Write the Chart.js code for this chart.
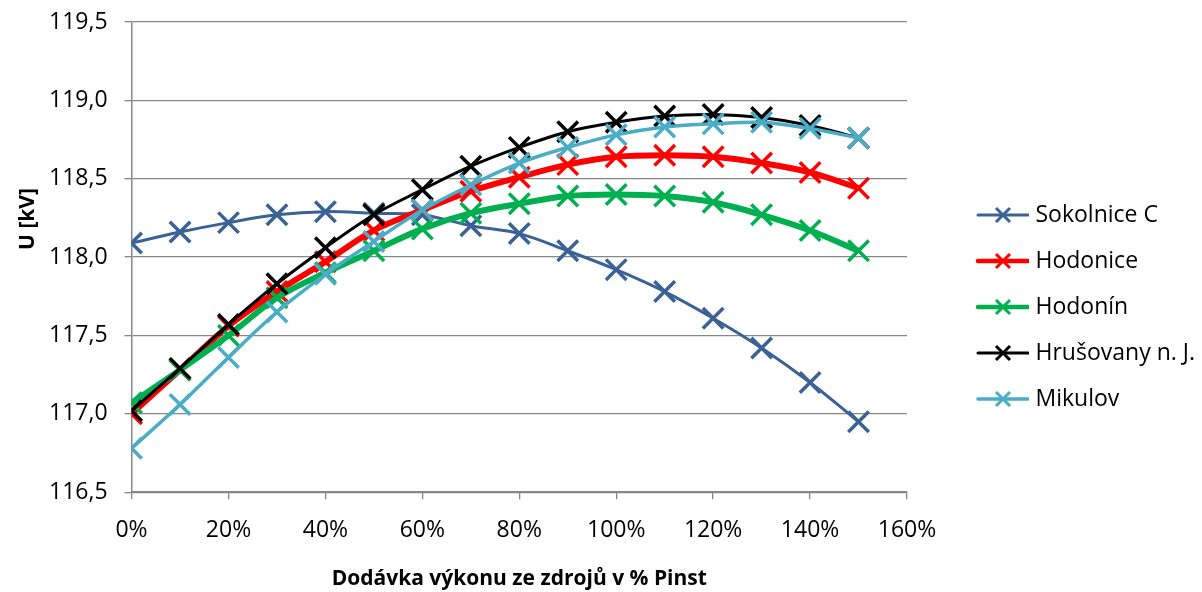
<!DOCTYPE html>
<html>
<head>
<meta charset="utf-8">
<script src="https://cdn.jsdelivr.net/npm/chart.js@4.4.1/dist/chart.umd.min.js"></script>
<style>
  html, body { margin: 0; padding: 0; background: #fff; }
  #wrap { width: 1202px; height: 592px; }
</style>
</head>
<body>
<div id="wrap"><canvas id="voltageChart"></canvas></div>
<script>
// dodávka výkonu v % Pinst
const loads = [0, 10, 20, 30, 40, 50, 60, 70, 80, 90, 100, 110, 120, 130, 140, 150];
const xTicks = [0, 20, 40, 60, 80, 100, 120, 140, 160];
const yTicks = [116.5, 117.0, 117.5, 118.0, 118.5, 119.0, 119.5];

// napětí v uzlech [kV]
const sokolnice = [118.09, 118.16, 118.22, 118.27, 118.29, 118.28, 118.27, 118.20, 118.15, 118.04, 117.92, 117.78, 117.61, 117.42, 117.20, 116.95];
const hodonice  = [117.00, 117.28, 117.56, 117.78, 117.97, 118.17, 118.30, 118.42, 118.51, 118.59, 118.64, 118.65, 118.64, 118.60, 118.54, 118.44];
const hodonin   = [117.07, 117.28, 117.50, 117.74, 117.90, 118.04, 118.18, 118.28, 118.34, 118.39, 118.40, 118.39, 118.35, 118.27, 118.17, 118.04];
const hrusovany = [117.02, 117.29, 117.57, 117.83, 118.06, 118.27, 118.43, 118.58, 118.70, 118.80, 118.86, 118.90, 118.91, 118.89, 118.84, 118.76];
const mikulov   = [116.78, 117.06, 117.36, 117.65, 117.89, 118.10, 118.30, 118.46, 118.60, 118.70, 118.78, 118.83, 118.85, 118.86, 118.82, 118.76];

const FONT = '"Open Sans", sans-serif';
const gridColor = '#878787';

function series(label, values, color, width, order) {
    return {
        label: label,
        data: loads.map((x, i) => ({ x: x, y: values[i] })),
        borderColor: color,
        backgroundColor: color,
        borderWidth: width,
        pointStyle: 'crossRot',
        pointRadius: 14.5,
        pointHoverRadius: 14.5,
        pointBorderWidth: 3.5,
        pointBorderColor: color,
        tension: 0.35,
        fill: false,
        order: order,
        legendWidth: Math.min(width, 4.5)
    };
}

// legend symbol: line with a cross, drawn into the right half of the canvas
function legendSymbol(color, width) {
    const c = document.createElement('canvas');
    c.width = 104;
    c.height = 20;
    const g = c.getContext('2d');
    g.strokeStyle = color;
    g.lineCap = 'round';
    g.lineWidth = width;
    g.beginPath();
    g.moveTo(53, 10);
    g.lineTo(103, 10);
    g.stroke();
    g.lineWidth = 3;
    g.lineCap = 'butt';
    g.beginPath();
    g.moveTo(71, 3); g.lineTo(85, 17);
    g.moveTo(85, 3); g.lineTo(71, 17);
    g.stroke();
    return c;
}

const legendLayout = {
    id: 'legendLayout',
    beforeInit(chart) {
        const legend = chart.legend;
        const fit = legend.fit;
        legend.fit = function() {
            fit.call(this);
            this.width = 295;
        };
    }
};

const yTitle = {
    id: 'yTitle',
    afterDraw(chart) {
        const ctx = chart.ctx;
        ctx.save();
        ctx.translate(28, 219);
        ctx.rotate(-Math.PI / 2);
        ctx.font = 'bold 21px ' + FONT;
        ctx.fillStyle = '#000';
        ctx.textAlign = 'center';
        ctx.textBaseline = 'middle';
        ctx.fillText('U [kV]', 0, 0);
        ctx.restore();
    }
};

const ctx = document.getElementById('voltageChart').getContext('2d');
new Chart(ctx, {
    type: 'line',
    data: {
        datasets: [
            series('Sokolnice C', sokolnice, '#3A6294', 3, 4),
            series('Hodonice', hodonice, '#FF0000', 6, 3),
            series('Hodonín', hodonin, '#00B050', 6, 2),
            series('Hrušovany n. J.', hrusovany, '#000000', 3, 1),
            series('Mikulov', mikulov, '#4BACC6', 3.5, 0)
        ]
    },
    options: {
        responsive: true,
        maintainAspectRatio: false,
        animation: false,
        layout: { padding: { left: 32, top: 22, right: 0, bottom: 0 } },
        scales: {
            x: {
                type: 'linear',
                min: 0,
                max: 160,
                afterBuildTicks: axis => { axis.ticks = xTicks.map(v => ({ value: v })); },
                grid: { display: true, drawOnChartArea: false, drawTicks: true, tickLength: 7, color: gridColor, lineWidth: 1.3 },
                border: { display: true, color: gridColor, width: 1.5 },
                ticks: {
                    padding: 17,
                    color: '#000',
                    font: { family: FONT, size: 23 },
                    maxRotation: 0,
                    callback: v => v + '%'
                },
                title: {
                    display: true,
                    text: 'Dodávka výkonu ze zdrojů v % Pinst',
                    color: '#000',
                    font: { family: FONT, size: 21, weight: 'bold' },
                    padding: { top: 6, bottom: 0 }
                }
            },
            y: {
                min: 116.5,
                max: 119.5,
                afterBuildTicks: axis => { axis.ticks = yTicks.map(v => ({ value: v })); },
                grid: { color: gridColor, lineWidth: 1.3, tickLength: 7 },
                border: { display: true, color: gridColor, width: 1.5 },
                ticks: {
                    padding: 17,
                    color: '#000',
                    font: { family: FONT, size: 23, lineHeight: 0.4 },
                    callback: v => v.toFixed(1).replace('.', ',')
                }
            }
        },
        plugins: {
            tooltip: { enabled: false },
            legend: {
                position: 'right',
                labels: {
                    usePointStyle: true,
                    pointStyleWidth: 94,
                    padding: 23,
                    color: '#000',
                    font: { family: FONT, size: 23 },
                    generateLabels: chart => chart.data.datasets.map((ds, i) => ({
                        text: ds.label,
                        fontColor: '#000',
                        pointStyle: legendSymbol(ds.borderColor, ds.legendWidth),
                        lineWidth: 0,
                        strokeStyle: ds.borderColor,
                        fillStyle: ds.borderColor,
                        hidden: false,
                        datasetIndex: i
                    }))
                }
            }
        }
    },
    plugins: [legendLayout, yTitle]
});
</script>
</body>
</html>
